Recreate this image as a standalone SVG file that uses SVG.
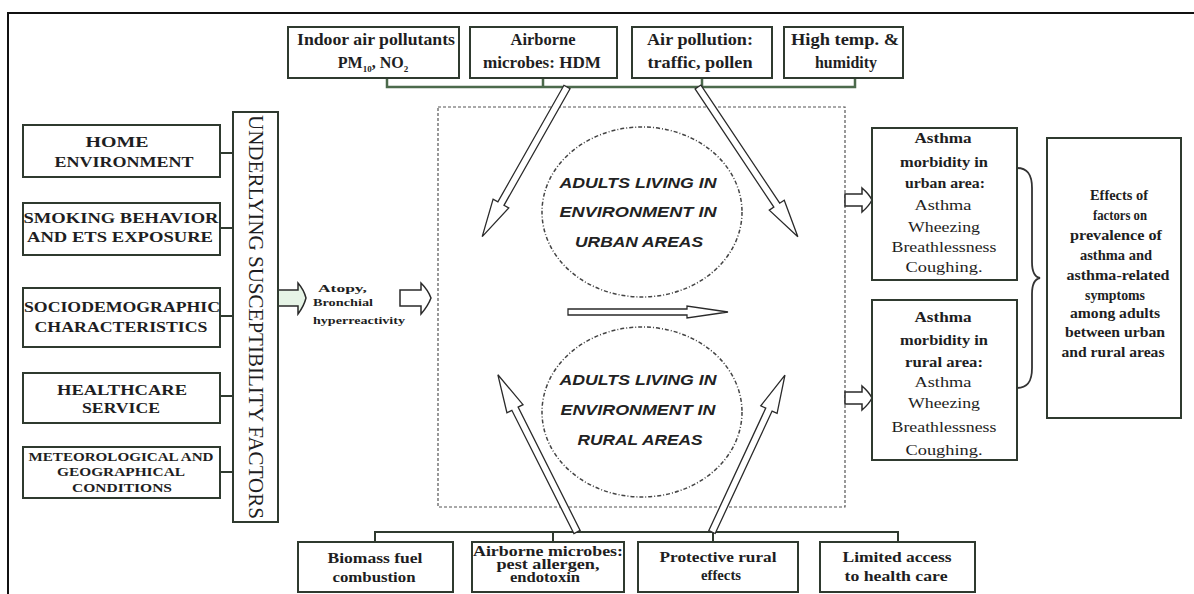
<svg xmlns="http://www.w3.org/2000/svg" width="1194" height="594" viewBox="0 0 1194 594">
<style>
.box{fill:#fff;stroke:#2f3a2f;stroke-width:2}
.t{font-family:"Liberation Serif",serif;font-weight:bold;fill:#1e1e22;text-anchor:middle;font-size:16px}
.tl{font-family:"Liberation Serif",serif;font-weight:bold;fill:#1e1e22;text-anchor:middle;font-size:15px}
.tm{font-family:"Liberation Serif",serif;font-weight:bold;fill:#1e1e22;text-anchor:middle;font-size:12px}
.tr{font-family:"Liberation Serif",serif;font-weight:bold;fill:#1e1e22;text-anchor:middle;font-size:14px}
.tr2{font-family:"Liberation Serif",serif;fill:#1e1e22;text-anchor:middle;font-size:15px}
.tc{font-family:"Liberation Sans",sans-serif;font-style:italic;font-weight:bold;fill:#222;text-anchor:middle;font-size:14px}
.ts{font-family:"Liberation Serif",serif;font-weight:bold;fill:#1e1e22;font-size:11px}
.ln{stroke:#2f3a2f;stroke-width:2;fill:none}
.bar{stroke:#4c6a4c;stroke-width:2.5;fill:none}
.arr{fill:#fff;stroke:#2a2a2a;stroke-width:1.3}
.blk{stroke:#2a2a2a;stroke-width:1.5}
.dash{fill:none;stroke:#555;stroke-width:1.2;stroke-dasharray:3 2}
.dot{fill:none;stroke:#444;stroke-width:1.5;stroke-dasharray:4 2 1 2}
</style>
<rect width="1194" height="594" fill="#fff"/>
<path d="M1194,13 H8 V594" fill="none" stroke="#111" stroke-width="2"/>

<g id="region">
<rect x="438" y="107" width="407" height="400" class="dash"/>
</g>

<g id="connectors">
<path class="bar" d="M387,78 V87 H855 V78 M543,78 V87 M702,78 V87"/>
<path class="ln" d="M375,542 V532 H898 V542 M553,532 V542 M713,532 V542"/>
<path class="ln" d="M220,153 H233 M220,228 H233 M220,316 H233 M220,396 H233 M220,472 H233"/>
<polygon class="arr" transform="translate(567,87) rotate(119.54)" points="0,-3.5 134,-3.5 134,-9 172,0 134,9 134,3.5 0,3.5"/>
<polygon class="arr" transform="translate(698,87) rotate(56.31)" points="0,-3.5 142,-3.5 142,-9 180,0 142,9 142,3.5 0,3.5"/>
<polygon class="arr" transform="translate(577,532) rotate(-116.71)" points="0,-3.5 138,-3.5 138,-9 176,0 138,9 138,3.5 0,3.5"/>
<polygon class="arr" transform="translate(712,532) rotate(-65.06)" points="0,-3.5 135,-3.5 135,-9 173,0 135,9 135,3.5 0,3.5"/>
<polygon class="arr" transform="translate(568,312)" points="0,-3 119,-3 119,-6 160,0 119,6 119,3 0,3"/>
<path class="blk" fill="#e6f4e6" d="M278,290 H298 V283 Q304,290 306,298 Q304,306 298,314 V306 H278 Z"/>
<path class="blk" fill="#fff" d="M400,290 H421 V283 Q428,290 431,298 Q428,306 421,314 V306 H400 Z"/>
<path class="blk" fill="#fff" d="M845,194 H862 V188 Q869,194 872,200 Q869,206 862,212 V206 H845 Z"/>
<path class="blk" fill="#fff" d="M845,392 H862 V386 Q869,392 872,398 Q869,404 862,410 V404 H845 Z"/>
<path d="M1017,168 C1028,168 1032,175 1032,188 L1032,262 C1032,272 1035,277 1040,278 C1035,279 1032,284 1032,294 L1032,368 C1032,381 1028,388 1017,388" fill="none" stroke="#333" stroke-width="1.8"/>
</g>

<g id="indoor">
<rect class="box" x="288" y="27" width="171" height="51"/>
<text class="t" x="376" y="45" textLength="158" lengthAdjust="spacingAndGlyphs">Indoor air pollutants</text>
<text class="t" x="373" y="68">PM<tspan font-size="9" dy="4">10</tspan><tspan dy="-4">, NO</tspan><tspan font-size="9" dy="4">2</tspan></text>
</g>
<g id="airborne-top">
<rect class="box" x="470" y="27" width="147" height="51"/>
<text class="t" x="543" y="45" textLength="65" lengthAdjust="spacingAndGlyphs">Airborne</text>
<text class="t" x="542" y="68" textLength="118" lengthAdjust="spacingAndGlyphs">microbes: HDM</text>
</g>
<g id="airpollution">
<rect class="box" x="632" y="27" width="140" height="51"/>
<text class="t" x="700" y="45" textLength="106" lengthAdjust="spacingAndGlyphs">Air pollution:</text>
<text class="t" x="700" y="68" textLength="105" lengthAdjust="spacingAndGlyphs">traffic, pollen</text>
</g>
<g id="hightemp">
<rect class="box" x="784" y="27" width="119" height="51"/>
<text class="t" x="845" y="45" textLength="108" lengthAdjust="spacingAndGlyphs">High temp. &amp;</text>
<text class="t" x="846" y="68" textLength="62" lengthAdjust="spacingAndGlyphs">humidity</text>
</g>

<g id="home">
<rect class="box" x="23" y="125" width="197" height="52"/>
<text class="tl" x="117" y="147" textLength="63" lengthAdjust="spacingAndGlyphs">HOME</text>
<text class="tl" x="124" y="167" textLength="139" lengthAdjust="spacingAndGlyphs">ENVIRONMENT</text>
</g>
<g id="smoking">
<rect class="box" x="23" y="203" width="197" height="52"/>
<text class="tl" x="121" y="223" textLength="195" lengthAdjust="spacingAndGlyphs">SMOKING BEHAVIOR</text>
<text class="tl" x="120" y="242" textLength="186" lengthAdjust="spacingAndGlyphs">AND ETS EXPOSURE</text>
</g>
<g id="socio">
<rect class="box" x="23" y="288" width="197" height="59"/>
<text class="tl" x="122" y="312" textLength="196" lengthAdjust="spacingAndGlyphs">SOCIODEMOGRAPHIC</text>
<text class="tl" x="121" y="332" textLength="173" lengthAdjust="spacingAndGlyphs">CHARACTERISTICS</text>
</g>
<g id="healthcare">
<rect class="box" x="23" y="373" width="197" height="50"/>
<text class="tl" x="122" y="395" textLength="130" lengthAdjust="spacingAndGlyphs">HEALTHCARE</text>
<text class="tl" x="121" y="413" textLength="78" lengthAdjust="spacingAndGlyphs">SERVICE</text>
</g>
<g id="meteo">
<rect class="box" x="23" y="447" width="197" height="51"/>
<text class="tm" x="121" y="461" textLength="185" lengthAdjust="spacingAndGlyphs">METEOROLOGICAL AND</text>
<text class="tm" x="121" y="476" textLength="128" lengthAdjust="spacingAndGlyphs">GEOGRAPHICAL</text>
<text class="tm" x="122" y="492" textLength="100" lengthAdjust="spacingAndGlyphs">CONDITIONS</text>
</g>
<g id="underlying">
<rect class="box" x="233" y="112" width="45" height="410"/>
<text transform="translate(249,317) rotate(90)" x="0" y="0" text-anchor="middle" font-family="'Liberation Serif',serif" font-size="21" fill="#1e1e22" textLength="404" lengthAdjust="spacingAndGlyphs">UNDERLYING SUSCEPTIBILITY FACTORS</text>
</g>

<g id="atopy">
<text class="ts" x="318" y="292" font-size="14" textLength="49" lengthAdjust="spacingAndGlyphs">Atopy,</text>
<text class="ts" x="313" y="306" textLength="60" lengthAdjust="spacingAndGlyphs">Bronchial</text>
<text class="ts" x="313" y="324" textLength="92" lengthAdjust="spacingAndGlyphs">hyperreactivity</text>
</g>

<g id="urban">
<ellipse class="dot" cx="642" cy="212" rx="100" ry="85"/>
<text class="tc" x="638" y="188" textLength="157" lengthAdjust="spacingAndGlyphs">ADULTS LIVING IN</text>
<text class="tc" x="638" y="217" textLength="157" lengthAdjust="spacingAndGlyphs">ENVIRONMENT IN</text>
<text class="tc" x="639" y="247" textLength="128" lengthAdjust="spacingAndGlyphs">URBAN AREAS</text>
</g>
<g id="rural">
<ellipse class="dot" cx="642" cy="412" rx="100" ry="85"/>
<text class="tc" x="638" y="385" textLength="157" lengthAdjust="spacingAndGlyphs">ADULTS LIVING IN</text>
<text class="tc" x="638" y="415" textLength="155" lengthAdjust="spacingAndGlyphs">ENVIRONMENT IN</text>
<text class="tc" x="640" y="445" textLength="125" lengthAdjust="spacingAndGlyphs">RURAL AREAS</text>
</g>

<g id="urban-morbidity">
<rect class="box" x="872" y="128" width="145" height="152"/>
<text class="tr" x="943" y="143" textLength="57" lengthAdjust="spacingAndGlyphs">Asthma</text>
<text class="tr" x="944" y="167" textLength="88" lengthAdjust="spacingAndGlyphs">morbidity in</text>
<text class="tr" x="945" y="188" textLength="80" lengthAdjust="spacingAndGlyphs">urban area:</text>
<text class="tr2" x="943" y="210" textLength="57" lengthAdjust="spacingAndGlyphs">Asthma</text>
<text class="tr2" x="944" y="232" textLength="72" lengthAdjust="spacingAndGlyphs">Wheezing</text>
<text class="tr2" x="944" y="252" textLength="105" lengthAdjust="spacingAndGlyphs">Breathlessness</text>
<text class="tr2" x="944" y="272" textLength="77" lengthAdjust="spacingAndGlyphs">Coughing.</text>
</g>
<g id="rural-morbidity">
<rect class="box" x="872" y="300" width="145" height="160"/>
<text class="tr" x="943" y="322" textLength="57" lengthAdjust="spacingAndGlyphs">Asthma</text>
<text class="tr" x="944" y="345" textLength="88" lengthAdjust="spacingAndGlyphs">morbidity in</text>
<text class="tr" x="944" y="367" textLength="78" lengthAdjust="spacingAndGlyphs">rural area:</text>
<text class="tr2" x="943" y="387" textLength="57" lengthAdjust="spacingAndGlyphs">Asthma</text>
<text class="tr2" x="944" y="408" textLength="72" lengthAdjust="spacingAndGlyphs">Wheezing</text>
<text class="tr2" x="944" y="432" textLength="105" lengthAdjust="spacingAndGlyphs">Breathlessness</text>
<text class="tr2" x="944" y="455" textLength="77" lengthAdjust="spacingAndGlyphs">Coughing.</text>
</g>

<g id="effects">
<rect class="box" x="1047" y="138" width="134" height="280"/>
<text class="tr" x="1119" y="200" textLength="58" lengthAdjust="spacingAndGlyphs">Effects of</text>
<text class="tr" x="1120" y="220" textLength="54" lengthAdjust="spacingAndGlyphs">factors on</text>
<text class="tr" x="1116" y="240" textLength="92" lengthAdjust="spacingAndGlyphs">prevalence of</text>
<text class="tr" x="1116" y="260" textLength="72" lengthAdjust="spacingAndGlyphs">asthma and</text>
<text class="tr" x="1118" y="280" textLength="103" lengthAdjust="spacingAndGlyphs">asthma-related</text>
<text class="tr" x="1115" y="300" textLength="60" lengthAdjust="spacingAndGlyphs">symptoms</text>
<text class="tr" x="1115" y="318" textLength="90" lengthAdjust="spacingAndGlyphs">among adults</text>
<text class="tr" x="1115" y="337" textLength="100" lengthAdjust="spacingAndGlyphs">between urban</text>
<text class="tr" x="1113" y="357" textLength="103" lengthAdjust="spacingAndGlyphs">and rural areas</text>
</g>

<g id="biomass">
<rect class="box" x="298" y="542" width="155" height="50"/>
<text class="tr" x="375" y="563" textLength="95" lengthAdjust="spacingAndGlyphs">Biomass fuel</text>
<text class="tr" x="374" y="582" textLength="83" lengthAdjust="spacingAndGlyphs">combustion</text>
</g>
<g id="airborne-bottom">
<rect class="box" x="472" y="542" width="152" height="50"/>
<text class="tr" x="548" y="556" textLength="150" lengthAdjust="spacingAndGlyphs">Airborne microbes:</text>
<text class="tr" x="548" y="569" textLength="103" lengthAdjust="spacingAndGlyphs">pest allergen,</text>
<text class="tr" x="545" y="582" textLength="70" lengthAdjust="spacingAndGlyphs">endotoxin</text>
</g>
<g id="protective">
<rect class="box" x="638" y="542" width="160" height="50"/>
<text class="tr" x="718" y="562" textLength="117" lengthAdjust="spacingAndGlyphs">Protective rural</text>
<text class="tr" x="721" y="580" textLength="40" lengthAdjust="spacingAndGlyphs">effects</text>
</g>
<g id="limited">
<rect class="box" x="820" y="542" width="155" height="50"/>
<text class="tr" x="897" y="562" textLength="109" lengthAdjust="spacingAndGlyphs">Limited access</text>
<text class="tr" x="896" y="581" textLength="103" lengthAdjust="spacingAndGlyphs">to health care</text>
</g>
</svg>
